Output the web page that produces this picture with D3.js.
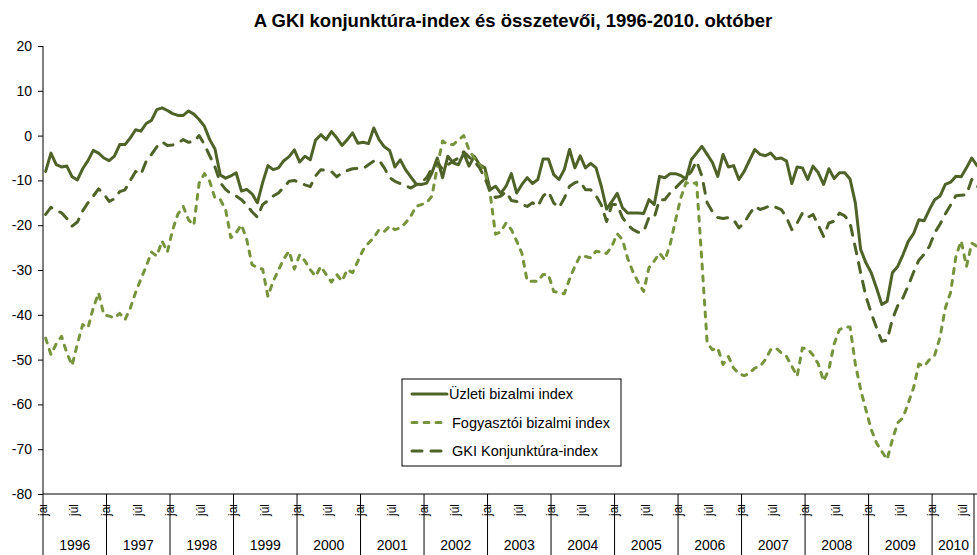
<!DOCTYPE html>
<html>
<head>
<meta charset="utf-8">
<script src="https://cdn.jsdelivr.net/npm/d3@7/dist/d3.min.js"></script>
<style>
  body { margin: 0; background: #fff; }
  svg { display: block; font-family: 'Liberation Sans', Arial, sans-serif; }
</style>
</head>
<body>
<div id="chart"></div>
<script>
const title = 'A GKI konjunktúra-index és összetevői, 1996-2010. október'
const years = d3.range(1996, 2011)
const monthLabels = ['jan.', 'júl.']
const monthTickIndex = [0, 6]
const yTicks = d3.range(-80, 21, 10)

// havi adatok, 1996. jan. - 2010. okt.
const uzleti = [
  -8, -3.9, -6.5, -7, -6.8, -9.2, -9.9, -7.4, -5.6, -3.3, -3.9, -5,
  -5.6, -4.6, -2, -2, -0.5, 1.3, 1, 2.7, 3.4, 5.8, 6.2, 5.6,
  4.9, 4.5, 4.5, 5.5, 4.8, 3.6, 2.1, -0.9, -3, -8.8, -9.5, -9,
  -8.3, -12.4, -12, -13, -15, -10.5, -6.7, -7.6, -7.2, -5.6, -4.7, -3.2,
  -5.9, -4.6, -5.4, -1, 0.2, -0.9, 0.9, -0.5, -2.2, -0.9, 0.6, -1.7,
  -1.5, -1.8, 1.7, -0.9, -2.5, -3.3, -7, -5.4, -7.6, -9.2, -10.8, -10.9,
  -10.6, -8.3, -5, -9.4, -4.6, -6.1, -6.5, -3.9, -6.8, -4.6, -6.5, -7.2,
  -12.1, -11.3, -12.9, -11.3, -8.5, -12.8, -10.9, -9.4, -10.7, -9.8, -5.2, -5.2,
  -8.7, -9.8, -7.6, -3.1, -7.2, -4.5, -7.2, -6.2, -7.2, -11.3, -16.4, -14.7,
  -12.9, -16.1, -17.3, -17.3, -17.3, -17.4, -14.3, -15.4, -9.1, -9.4, -8.5, -8.5,
  -8.9, -9.7, -5.4, -3.9, -2.4, -4.2, -6, -9.1, -4.2, -7, -6.7, -9.8,
  -8, -5.5, -3.1, -4.2, -4.5, -3.9, -5.2, -5, -5.7, -10.7, -7, -7.2,
  -9.8, -6.8, -8.3, -10.9, -7.4, -9.6, -8.3, -8.3, -9.7, -15, -25.4, -28.4,
  -30.6, -34, -37.7, -37, -30.6, -29.2, -26.6, -23.6, -21.9, -18.8, -19, -16.5,
  -14.3, -13.5, -10.9, -10.4, -9.1, -9.2, -7.2, -5, -6.7, -7.5
]
const fogyasztoi = [
  -45.2, -48.9, -46.5, -44.8, -48.5, -51.3, -46.5, -42.2, -42.9, -38.5, -35.1, -40,
  -40.3, -40.7, -39.7, -41.1, -38.5, -35, -32, -29.2, -26, -26.9, -23.5, -26,
  -21, -17.5, -15.8, -18.8, -20, -10.6, -8.5, -10.2, -14, -14.3, -16.5, -22.8,
  -21.7, -19.9, -23.2, -28.8, -29.5, -29.8, -35.9, -32.5, -30, -27.5, -25.8, -29.8,
  -26.6, -28, -29.9, -31.4, -29.2, -31, -32.7, -31, -32.5, -29.9, -30.6, -28,
  -25.5, -24, -22.8, -21, -21.4, -20.2, -21, -20.6, -19.5, -18, -15.8, -15.4,
  -15, -13.5, -7, -1.2, -2, -2, -1, 0, -3.2, -5, -6.5, -8,
  -13, -22, -21.5, -19.5, -21, -23.5, -26.3, -32.5, -32.5, -32.5, -31, -31,
  -34.8, -35, -35.3, -32, -29.2, -26.8, -27, -27.3, -25.8, -26, -26.3, -24.7,
  -21.9, -23.2, -27.5, -30.5, -32.8, -34.8, -29.5, -28, -26.2, -27.8, -24.3, -19,
  -14, -10.5, -10.8, -10.5, -28, -46.3, -47.8, -47.4, -51.1, -49.3, -51.9, -53.1,
  -53.6, -53, -51.9, -51.5, -50, -47.8, -47.4, -48.5, -49.3, -51.5, -53.7, -47.4,
  -47.6, -49, -51, -54.8, -52.2, -46.5, -43.3, -42.8, -42.7, -51, -56.7, -61.2,
  -65.6, -68.6, -70.5, -72.3, -67.9, -64.1, -63, -59.7, -56.3, -51, -51.5, -50,
  -49, -45, -38.5, -35, -27, -23.5, -29.2, -24, -24.7, -24
]
const konjunktura = [
  -17.6, -16, -16.8, -17.2, -18.5, -20.2, -19.3, -16.8, -15, -13.5, -11.9, -13,
  -14.7, -14.1, -12.5, -12.1, -10, -8, -8.7, -5.7, -4.2, -2.5, -1.4, -2.2,
  -2.1, -1.6, -0.9, -1.5, -1.3, 0, -2, -4.5, -7, -10.5, -12, -13,
  -13.5, -14.3, -15.5, -17, -18.2, -15.4, -14.5, -13.5, -12.8, -11.5, -10.2, -10,
  -10.5, -11, -11.4, -9, -7.6, -7.8, -8, -9.2, -8.3, -7.8, -7.4, -7.3,
  -7.4, -6.5, -5.7, -5.5, -7.2, -9.4, -10.2, -10.7, -11.2, -11.7, -11, -10.5,
  -9.4, -7.3, -6, -7.5, -6.5, -5.7, -5, -3.6, -4.8, -5.7, -7.2, -9.5,
  -12.5, -13.8, -13.5, -12.5, -14.5, -14.7, -15.4, -15.8, -15, -15.8, -13.5, -12.5,
  -15, -16.1, -14, -11.3, -10.5, -10.2, -12.1, -12.1, -13.4, -15.5, -19.2, -15.4,
  -15.4, -18.3, -19.9, -21, -21.6, -21.4, -18.3, -18.3, -14.3, -14.3, -12.8, -11.7,
  -10.5, -9.4, -8, -5.7, -9, -15, -17, -18.3, -18.5, -18.3, -18.8, -20.6,
  -19.5, -17.5, -15.8, -16.5, -16.1, -15.6, -16, -16.5, -18.3, -21, -19.5, -17.3,
  -18.3, -17.6, -20, -22.5, -19.5, -19.1, -17.3, -17.9, -19.5, -25, -30.6, -35.9,
  -39.6, -42.9, -45.9, -45.7, -41, -38, -36.2, -33.5, -30.5, -27.8, -26.5, -24.7,
  -21.7, -19.8, -17.5, -15.5, -13.4, -13.3, -13.2, -9.8, -11.3, -12
]

const seriesNames = ['Üzleti bizalmi index', 'Fogyasztói bizalmi index', 'GKI Konjunktúra-index']
const seriesColors = ['#4f6228', '#77933c', '#4f6228']
const seriesDash = [null, '5,7', '10,9']

const width = 977
const height = 555
const plot = { left: 43, top: 46, bottom: 494, right: 975 }
const nMonths = uzleti.length

const svg = d3.select('#chart')
  .append('svg')
  .attr('width', width)
  .attr('height', height)

const x = d3.scaleLinear().domain([0, 178]).range([plot.left, 985])
const y = d3.scaleLinear().domain([-80, 20]).range([plot.bottom, plot.top])

svg.append('text')
  .attr('x', 513)
  .attr('y', 27)
  .attr('text-anchor', 'middle')
  .style('font-weight', 'bold')
  .style('font-size', '18.5px')
  .text(title)

// y tengely
const yAxis = svg.append('g')
  .attr('transform', `translate(${plot.left},0)`)
  .call(d3.axisLeft(y).tickValues(yTicks).tickSize(5).tickPadding(6).tickFormat(d3.format('d')))
yAxis.select('.domain').attr('stroke', '#000').attr('d', `M0,${plot.top}V${plot.bottom}`)
yAxis.selectAll('.tick line').attr('stroke', '#000')
yAxis.selectAll('.tick text')
  .style('font-size', '14px')
  .attr('fill', '#000')
  .text(d => d < 0 ? '-' + Math.abs(d) : d)

// x tengely
svg.append('line')
  .attr('x1', plot.left).attr('x2', width)
  .attr('y1', plot.bottom).attr('y2', plot.bottom)
  .attr('stroke', '#000')

const xg = svg.append('g')

xg.selectAll('.sep')
  .data(years)
  .join('line')
  .attr('x1', (d, i) => x(i * 12)).attr('x2', (d, i) => x(i * 12))
  .attr('y1', plot.bottom).attr('y2', height)
  .attr('stroke', '#000')
  .attr('stroke-width', 1)

xg.append('line')
  .attr('x1', plot.right - 1).attr('x2', plot.right - 1)
  .attr('y1', plot.bottom).attr('y2', height)
  .attr('stroke', '#000')

xg.selectAll('.year')
  .data(years)
  .join('text')
  .attr('x', (d, i) => {
    const a = x(i * 12)
    const b = Math.min(x(i * 12 + 12), plot.right)
    return (a + b) / 2
  })
  .attr('y', 550)
  .attr('text-anchor', 'middle')
  .style('font-size', '14px')
  .text(d => d)

// a hónapfeliratok csak részben látszanak (levágva)
svg.append('clipPath').attr('id', 'mclip')
  .append('rect').attr('x', 0).attr('y', 505).attr('width', width).attr('height', 12)

const monthTicks = []
years.forEach((yr, yi) => {
  monthTickIndex.forEach((m, k) => {
    const idx = yi * 12 + m
    if (idx < nMonths) monthTicks.push({ idx, label: monthLabels[k] })
  })
})

xg.append('g').attr('clip-path', 'url(#mclip)')
  .selectAll('text')
  .data(monthTicks)
  .join('text')
  .attr('transform', d => `translate(${x(d.idx + 0.5) + 1},516) rotate(-90)`)
  .style('font-size', '12px')
  .text(d => d.label)

// vonalak
svg.append('clipPath').attr('id', 'pclip')
  .append('rect')
  .attr('x', plot.left).attr('y', plot.top - 10)
  .attr('width', width - plot.left).attr('height', plot.bottom - plot.top + 10)

const line = d3.line()
  .x((d, i) => x(i + 0.5))
  .y(d => y(d))

const series = [uzleti, fogyasztoi, konjunktura]

svg.append('g').attr('clip-path', 'url(#pclip)')
  .selectAll('path')
  .data(series)
  .join('path')
  .attr('d', d => line(d))
  .attr('fill', 'none')
  .attr('stroke', (d, i) => seriesColors[i])
  .attr('stroke-width', 3)
  .attr('stroke-linejoin', 'round')
  .attr('stroke-linecap', 'round')
  .attr('stroke-dasharray', (d, i) => seriesDash[i])

// jelmagyarázat
const legend = svg.append('g').attr('transform', 'translate(402,379)')
legend.append('rect')
  .attr('width', 219).attr('height', 87)
  .attr('fill', '#fff')
  .attr('stroke', '#000')
  .attr('stroke-width', 1)

const items = legend.selectAll('.item')
  .data(seriesNames)
  .join('g')
  .attr('transform', (d, i) => `translate(0,${15 + i * 28.5})`)

items.append('line')
  .attr('x1', 10).attr('x2', 45)
  .attr('stroke', (d, i) => seriesColors[i])
  .attr('stroke-width', 3)
  .attr('stroke-linecap', 'round')
  .attr('stroke-dasharray', (d, i) => seriesDash[i])

items.append('text')
  .attr('x', (d, i) => i === 0 ? 47 : 50)
  .attr('y', 5)
  .style('font-size', '14.5px')
  .text(d => d)
</script>
</body>
</html>
